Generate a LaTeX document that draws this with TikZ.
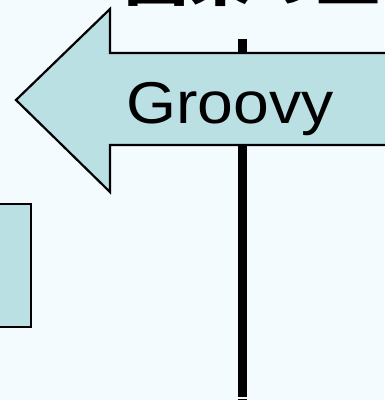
\documentclass[tikz,border=0pt]{standalone}
\usepackage{fontspec}
\setmainfont{Liberation Sans}
\newfontfamily\jpfont{Noto Sans CJK JP}
\definecolor{pagebg}{RGB}{243,251,255}
\definecolor{shapefill}{RGB}{186,224,228}
\tikzset{
  panel/.style={fill=shapefill, draw=black, line width=2.2pt, line join=miter},
  timeline/.style={draw=black, line width=9pt},
  arrowlabel/.style={font=\fontsize{59}{64}\selectfont, inner sep=0pt, anchor=base west},
  heading/.style={font=\jpfont\bfseries\fontsize{64}{70}\selectfont, inner sep=0pt, anchor=base west}
}
\begin{document}
\begin{tikzpicture}[x=1pt,y=-1pt]
  % page background and fixed frame
  \fill[pagebg] (0,0) rectangle (384,400);
  \useasboundingbox (0,0) rectangle (384,400);

  % heading, mostly above the frame
  \node[heading] (title) at (124,0) {因果の王};

  % vertical time line
  \coordinate (lineTop) at (242,39);
  \coordinate (lineEnd) at (242,397);
  \coordinate (tailTop) at (242,399);
  \coordinate (tailEnd) at (242,404);
  \draw[timeline] (lineTop) -- (lineEnd);
  \draw[timeline] (tailTop) -- (tailEnd);

  % left-pointing block arrow
  \draw[panel] (16,100) -- (110,9) -- (110,53) -- (400,53) -- (400,145)
               -- (110,145) -- (110,192) -- cycle;
  \node[arrowlabel, xscale=1.09] (groovy) at (126,123) {Groovy};

  % box at the left edge
  \draw[panel] (-20,204) rectangle (31,327);
\end{tikzpicture}
\end{document}
